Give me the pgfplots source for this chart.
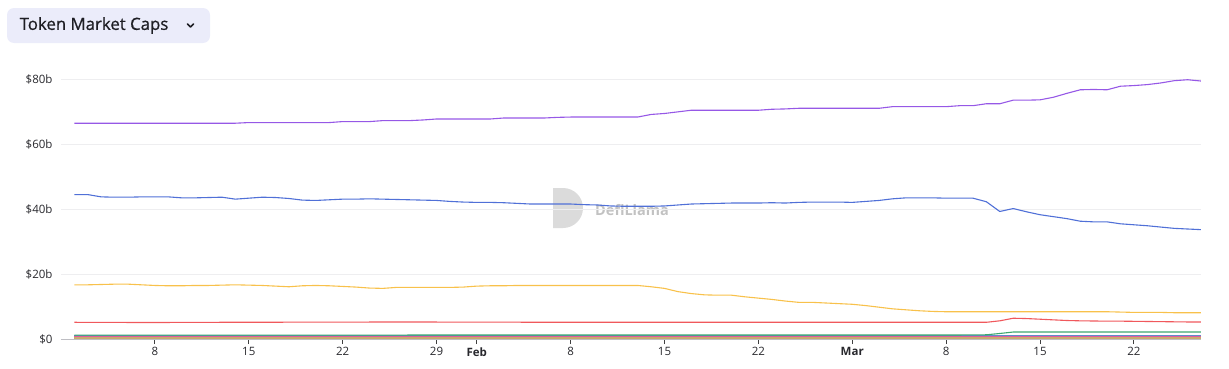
\documentclass[border=0pt]{standalone}
\usepackage{fontspec}
\setmainfont{Open Sans}
\newfontfamily\titlefont{Open Sans}[FakeBold=0.7]
\usepackage{pgfplots}
\pgfplotsset{compat=1.18}
\definecolor{cPurple}{RGB}{150,88,230}
\definecolor{cBlue}{RGB}{80,112,215}
\definecolor{cYellow}{RGB}{248,193,75}
\definecolor{cRed}{RGB}{240,88,92}
\definecolor{cGreen}{RGB}{60,168,110}
\definecolor{cSteel}{RGB}{95,140,200}
\definecolor{cPink}{RGB}{224,92,158}
\definecolor{cTan}{RGB}{200,170,110}
\definecolor{cGold}{RGB}{215,190,90}
\definecolor{btnbg}{RGB}{235,236,250}
\definecolor{titlecol}{RGB}{30,30,36}
\definecolor{tickcol}{RGB}{40,40,45}
\definecolor{gridcol}{RGB}{238,238,240}
\definecolor{axiscol}{RGB}{190,190,195}
\begin{document}
\begin{tikzpicture}
\useasboundingbox (0pt,0pt) rectangle (1229pt,368pt);
% title button
\fill[btnbg, rounded corners=7pt] (7pt,325pt) rectangle (210pt,360pt);
\node[anchor=west, font=\titlefont\fontsize{16.8}{19}\selectfont, text=titlecol, inner sep=0] at (19.5pt,342.5pt) {Token Market Caps};
\draw[line width=1.6pt, titlecol, line cap=round, line join=round] (187.5pt,344pt) -- (190.5pt,341pt) -- (193.5pt,344pt);
% watermark
\fill[black!14] (553pt,140pt) -- (553pt,180pt) -- (563pt,180pt) arc (90:-90:20pt) -- cycle;
\node[font=\bfseries\fontsize{14.5}{16}\selectfont, text=black!24, anchor=west, inner sep=0] at (595pt,158pt) {DefiLlama};
\begin{axis}[
  at={(61pt,29pt)}, anchor=south west,
  scale only axis, width=1140pt, height=259.6pt,
  xmin=0, xmax=85, ymin=0, ymax=80,
  axis line style={draw=none},
  ytick={0,20,40,60,80},
  yticklabels={\$0,\$20b,\$40b,\$60b,\$80b},
  ytick style={draw=none},
  ymajorgrids,
  grid style={draw=gridcol, line width=0.8pt},
  xtick={7,14,21,28,31,38,45,52,59,66,73,80},
  xticklabels={8,15,22,29,\textbf{Feb},8,15,22,\textbf{Mar},8,15,22},
  xtick pos=bottom,
  tick align=outside,
  major tick length=5pt,
  xtick style={draw=black!75, line width=0.8pt},
  ticklabel style={font=\fontsize{11.5}{13}\selectfont, text=tickcol},
  yticklabel style={anchor=east, xshift=0pt},
  every axis plot/.append style={no markers, line width=1.1pt, line join=round},
]
\draw[axiscol, line width=1pt] (axis cs:0,0) -- (axis cs:85,0);
\addplot[cGold] coordinates {(1,0.1)(85,0.1)};
\addplot[cTan] coordinates {(1,0.3)(85,0.3)};
\addplot[cPink] coordinates {(1,0.65)(85,0.65)};
\addplot[cSteel] coordinates {(1,1.0)(85,1.0)};
\addplot[cGreen] coordinates {(1,1.2)(68,1.25)(69,1.3)(70,1.7)(71,2.15)(85,2.15)};
\addplot[cRed] coordinates {(1,5.15)(5,5.1)(8,5.1)(12,5.15)(20,5.2)(26,5.25)(30,5.2)(40,5.15)(50,5.15)(60,5.15)(68,5.15)(69,5.15)(70,5.6)(71,6.4)(72,6.3)(73,6.1)(74,5.9)(75,5.7)(76,5.6)(77,5.55)(78,5.5)(79,5.5)(80,5.45)(81,5.4)(82,5.35)(83,5.3)(84,5.25)(85,5.25)};
\addplot[cYellow] coordinates {(1,16.7)(2,16.7)(3,16.8)(4,16.9)(5,16.9)(6,16.7)(7,16.5)(8,16.4)(9,16.4)(10,16.5)(11,16.5)(12,16.6)(13,16.7)(14,16.6)(15,16.5)(16,16.3)(17,16.1)(18,16.4)(19,16.5)(20,16.4)(21,16.2)(22,16.0)(23,15.7)(24,15.6)(25,15.9)(26,15.9)(27,15.9)(28,15.9)(29,15.9)(30,16.0)(31,16.3)(32,16.4)(33,16.4)(34,16.5)(35,16.5)(36,16.5)(37,16.5)(38,16.5)(39,16.5)(40,16.5)(41,16.5)(42,16.5)(43,16.5)(44,16.1)(45,15.6)(46,14.6)(47,14.0)(48,13.6)(49,13.5)(50,13.5)(51,13.0)(52,12.6)(53,12.2)(54,11.7)(55,11.3)(56,11.3)(57,11.1)(58,10.9)(59,10.7)(60,10.3)(61,9.8)(62,9.3)(63,9.0)(64,8.7)(65,8.5)(66,8.4)(67,8.4)(68,8.4)(69,8.4)(70,8.4)(71,8.4)(72,8.4)(73,8.4)(74,8.4)(75,8.4)(76,8.4)(77,8.4)(78,8.4)(79,8.3)(80,8.2)(81,8.2)(82,8.2)(83,8.1)(84,8.1)(85,8.1)};
\addplot[cBlue] coordinates {(1,44.5)(2,44.5)(3,43.8)(4,43.7)(5,43.7)(6,43.8)(7,43.8)(8,43.8)(9,43.5)(10,43.5)(11,43.6)(12,43.7)(13,43.1)(14,43.4)(15,43.7)(16,43.6)(17,43.3)(18,42.8)(19,42.7)(20,42.9)(21,43.1)(22,43.1)(23,43.2)(24,43.1)(25,43.0)(26,42.9)(27,42.8)(28,42.7)(29,42.4)(30,42.2)(31,42.1)(32,42.1)(33,42.0)(34,41.8)(35,41.6)(36,41.6)(37,41.6)(38,41.6)(39,41.4)(40,41.3)(41,41.0)(42,40.9)(43,40.9)(44,40.9)(45,41.0)(46,41.3)(47,41.6)(48,41.7)(49,41.8)(50,41.9)(51,41.9)(52,41.9)(53,42.0)(54,41.9)(55,42.1)(56,42.2)(57,42.2)(58,42.2)(59,42.1)(60,42.4)(61,42.7)(62,43.2)(63,43.5)(64,43.5)(65,43.5)(66,43.4)(67,43.4)(68,43.4)(69,42.3)(70,39.3)(71,40.2)(72,39.2)(73,38.3)(74,37.7)(75,37.1)(76,36.3)(77,36.1)(78,36.1)(79,35.5)(80,35.2)(81,34.9)(82,34.5)(83,34.1)(84,33.9)(85,33.7)};
\addplot[cPurple] coordinates {(1,66.5)(2,66.5)(3,66.5)(4,66.5)(5,66.5)(6,66.5)(7,66.5)(8,66.5)(9,66.5)(10,66.5)(11,66.5)(12,66.5)(13,66.5)(14,66.7)(15,66.7)(16,66.7)(17,66.7)(18,66.7)(19,66.7)(20,66.7)(21,67.0)(22,67.0)(23,67.0)(24,67.3)(25,67.3)(26,67.3)(27,67.5)(28,67.8)(29,67.8)(30,67.8)(31,67.8)(32,67.8)(33,68.1)(34,68.1)(35,68.1)(36,68.1)(37,68.3)(38,68.4)(39,68.4)(40,68.4)(41,68.4)(42,68.4)(43,68.4)(44,69.2)(45,69.5)(46,70.0)(47,70.5)(48,70.5)(49,70.5)(50,70.5)(51,70.5)(52,70.5)(53,70.8)(54,70.9)(55,71.1)(56,71.1)(57,71.1)(58,71.1)(59,71.1)(60,71.1)(61,71.1)(62,71.6)(63,71.6)(64,71.6)(65,71.6)(66,71.6)(67,71.9)(68,71.9)(69,72.5)(70,72.5)(71,73.6)(72,73.6)(73,73.7)(74,74.5)(75,75.7)(76,76.8)(77,76.9)(78,76.8)(79,77.9)(80,78.1)(81,78.4)(82,78.9)(83,79.6)(84,79.9)(85,79.5)};
\end{axis}
\end{tikzpicture}
\end{document}
